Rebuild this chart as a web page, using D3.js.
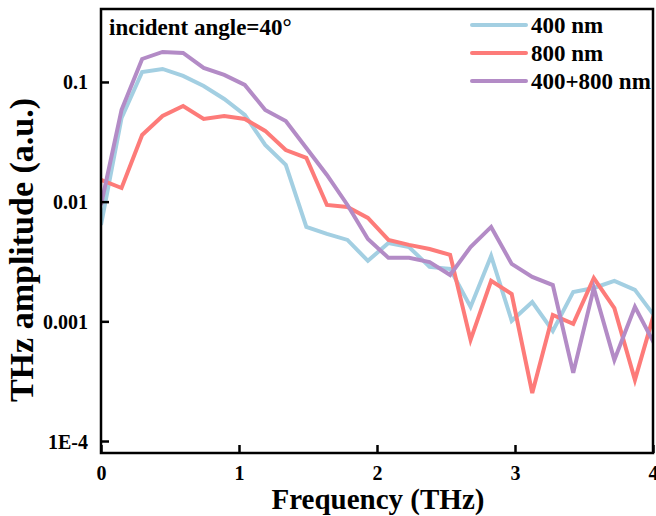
<!DOCTYPE html>
<html>
<head>
<meta charset="utf-8">
<script src="https://cdn.jsdelivr.net/npm/d3@7"></script>
<style>
  html, body { margin: 0; padding: 0; background: #fff; }
  svg text { font-family: "Liberation Serif", "Times New Roman", serif; font-weight: bold; fill: #000; }
</style>
</head>
<body>
<svg id="chart" width="656" height="516"></svg>
<script>
// Frequency samples (THz)
const frequency = [0, 0.149, 0.298, 0.446, 0.595, 0.744, 0.893, 1.042, 1.190, 1.339,
  1.488, 1.637, 1.786, 1.934, 2.083, 2.232, 2.381, 2.530, 2.678, 2.827,
  2.976, 3.125, 3.274, 3.422, 3.571, 3.720, 3.869, 4.018];

// THz spectral amplitude for each pump configuration (a.u.)
const amp400 = [0.00639, 0.0500, 0.1212, 0.1284, 0.1122, 0.0926, 0.0721, 0.0530, 0.0298, 0.0203,
  0.00615, 0.00537, 0.00479, 0.00320, 0.00452, 0.00418, 0.00285, 0.00274, 0.00132, 0.00352,
  0.00101, 0.00145, 0.000832, 0.00176, 0.00190, 0.00218, 0.00183, 0.00108];
const amp800 = [0.0152, 0.0130, 0.0361, 0.0520, 0.0630, 0.0491, 0.0520, 0.0491, 0.0390, 0.0270,
  0.0232, 0.00938, 0.00903, 0.00731, 0.00479, 0.00435, 0.00402, 0.00359, 0.000699, 0.00218,
  0.00169, 0.000252, 0.00113, 0.000951, 0.00230, 0.00129, 0.000324, 0.00127];
const amp400800 = [0.00938, 0.0584, 0.1556, 0.1781, 0.1747, 0.1309, 0.1144, 0.0944, 0.0584, 0.0472,
  0.0281, 0.0167, 0.00938, 0.00488, 0.00339, 0.00339, 0.00313, 0.00244, 0.00418, 0.00615,
  0.00302, 0.00235, 0.00201, 0.000371, 0.00190, 0.000476, 0.00132, 0.000623];

const seriesNames = ["400 nm", "800 nm", "400+800 nm"];
const seriesColors = ["#a3cfe2", "#fd7b79", "#b38bc6"];

const xTicks = [0, 1, 2, 3, 4];
const yTicks = [1e-4, 1e-3, 1e-2, 1e-1];
const yTickLabels = ["1E-4", "0.001", "0.01", "0.1"];

const svg = d3.select("#chart");
const plotLeft = 101, plotRight = 653, plotTop = 9, plotBottom = 453;

const x = d3.scaleLinear().domain([0, 4]).range([plotLeft, plotRight]);
const y = d3.scaleLog().domain([7.94e-5, 0.407]).range([plotBottom, plotTop]);

// Clip region for the data lines
svg.append("defs").append("clipPath").attr("id", "plotClip")
  .append("rect").attr("x", plotLeft).attr("y", plotTop)
  .attr("width", plotRight - plotLeft).attr("height", plotBottom - plotTop);

const line = d3.line()
  .x((d, i) => x(frequency[i]))
  .y(d => y(d));

const series = [amp400, amp800, amp400800];
const lines = svg.append("g").attr("clip-path", "url(#plotClip)");
series.forEach((s, k) => {
  lines.append("path")
    .datum(s)
    .attr("d", line)
    .attr("fill", "none")
    .attr("stroke", seriesColors[k])
    .attr("stroke-width", 4)
    .attr("stroke-linejoin", "miter");
});

// Axes with inward ticks
const yAxis = d3.axisLeft(y).tickValues(yTicks)
  .tickFormat((d, i) => yTickLabels[i]).tickSizeInner(-8).tickSizeOuter(0).tickPadding(13);
const gy = svg.append("g").attr("transform", `translate(${plotLeft},0)`).call(yAxis);

const xAxis = d3.axisBottom(x).tickValues(xTicks)
  .tickFormat(d3.format("d")).tickSizeInner(-8).tickSizeOuter(0).tickPadding(13);
const gx = svg.append("g").attr("transform", `translate(0,${plotBottom})`).call(xAxis);

[gx, gy].forEach(g => {
  g.select(".domain").remove();
  g.selectAll(".tick line").attr("stroke", "#000").attr("stroke-width", 2.5);
  g.selectAll(".tick text").style("font-size", "20px")
    .style("font-family", "'Liberation Serif', serif").style("font-weight", "bold");
});
gy.selectAll(".tick text").attr("dy", "0.35em");
gx.selectAll(".tick text").attr("dy", "0.71em");

// Frame
svg.append("rect")
  .attr("x", plotLeft).attr("y", plotTop)
  .attr("width", plotRight - plotLeft).attr("height", plotBottom - plotTop)
  .attr("fill", "none").attr("stroke", "#000").attr("stroke-width", 2.5);

// Axis titles
svg.append("text")
  .attr("x", 378).attr("y", 509)
  .attr("text-anchor", "middle").style("font-size", "29px")
  .text("Frequency (THz)");

svg.append("text")
  .attr("transform", `translate(33,250) rotate(-90)`)
  .attr("text-anchor", "middle").style("font-size", "34px")
  .text("THz amplitude (a.u.)");

// Annotation
svg.append("text")
  .attr("x", 109).attr("y", 35)
  .style("font-size", "23px")
  .text("incident angle=40°");

// Legend
const legendY = [25, 53, 81];
const legend = svg.append("g");
seriesNames.forEach((name, k) => {
  legend.append("line")
    .attr("x1", 472).attr("x2", 526)
    .attr("y1", legendY[k]).attr("y2", legendY[k])
    .attr("stroke", seriesColors[k]).attr("stroke-width", 4)
    .attr("stroke-linecap", "round");
  legend.append("text")
    .attr("x", 531).attr("y", legendY[k]).attr("dy", "0.35em")
    .style("font-size", "23px")
    .text(name);
});
</script>
</body>
</html>
